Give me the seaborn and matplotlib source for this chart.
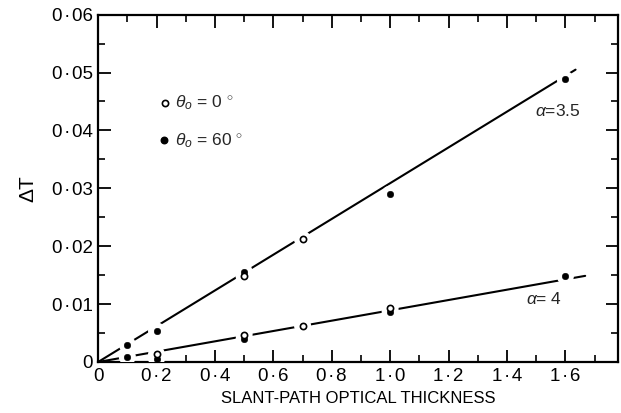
import matplotlib
matplotlib.use("Agg")
import matplotlib.pyplot as plt
import matplotlib.ticker as mticker
import seaborn as sns
import pandas as pd

# ---- data ----
x_theta0_a35 = [0.5, 0.7]
y_theta0_a35 = [0.0148, 0.0212]
x_theta0_a4 = [0.2, 0.5, 0.7, 1.0]
y_theta0_a4 = [0.0013, 0.0047, 0.0063, 0.0094]
x_theta60_a35 = [0.1, 0.2, 0.5, 1.0, 1.6]
y_theta60_a35 = [0.0030, 0.0054, 0.0156, 0.0290, 0.0488]
x_theta60_a4 = [0.1, 0.2, 0.5, 1.0, 1.6]
y_theta60_a4 = [0.0009, 0.0006, 0.0039, 0.0087, 0.0148]

fit_a35_x = [0.0, 1.635]
fit_a35_y = [0.0, 0.0505]
fit_a4_x = [0.0, 1.668]
fit_a4_y = [0.0, 0.01488]

x_ticks = [0, 0.2, 0.4, 0.6, 0.8, 1.0, 1.2, 1.4, 1.6]
y_ticks = [0, 0.01, 0.02, 0.03, 0.04, 0.05, 0.06]

sns.set_theme(style="ticks")
plt.rcParams["font.family"] = ["Liberation Sans", "DejaVu Sans"]
plt.rcParams["mathtext.fontset"] = "custom"
plt.rcParams["mathtext.rm"] = "Liberation Sans"
plt.rcParams["mathtext.it"] = "Liberation Sans:italic"

fig = plt.figure(figsize=(6.21, 4.13), dpi=100)
ax = fig.add_axes([0.158, 0.1235, 0.837, 0.841])

fits = pd.concat([
    pd.DataFrame({"x": fit_a35_x, "y": fit_a35_y, "alpha": "3.5"}),
    pd.DataFrame({"x": fit_a4_x, "y": fit_a4_y, "alpha": "4"}),
])
sns.lineplot(data=fits, x="x", y="y", units="alpha", estimator=None,
             color="black", lw=1.5, ax=ax, legend=False, zorder=2)

open_df = pd.DataFrame({"x": x_theta0_a35 + x_theta0_a4,
                        "y": y_theta0_a35 + y_theta0_a4})
filled_df = pd.DataFrame({"x": x_theta60_a35 + x_theta60_a4,
                          "y": y_theta60_a35 + y_theta60_a4})
all_df = pd.concat([open_df, filled_df])

# white halos to break the lines around each point
sns.scatterplot(data=all_df, x="x", y="y", s=150, color="white",
                edgecolor="none", ax=ax, zorder=3, legend=False)
sns.scatterplot(data=filled_df, x="x", y="y", s=22, color="black",
                edgecolor="black", ax=ax, zorder=4, legend=False)
sns.scatterplot(data=open_df, x="x", y="y", s=20, facecolor="white",
                edgecolor="black", linewidth=1.2, ax=ax, zorder=5, legend=False)

# legend-like annotations
ax.scatter([0.229], [0.0448], s=20, facecolor="white", edgecolor="black", linewidth=1.2, zorder=5)
ax.scatter([0.226], [0.0383], s=22, color="black", zorder=5)
ax.text(0.262, 0.0448, r"$\theta_o$ = 0 $^{\circ}$", fontsize=12.5, va="center", ha="left")
ax.text(0.262, 0.0383, r"$\theta_o$ = 60 $^{\circ}$", fontsize=12.5, va="center", ha="left")
ax.text(1.495, 0.0434, r"$\alpha$=3.5", fontsize=12.5, va="center", ha="left")
ax.text(1.465, 0.0109, r"$\alpha$= 4", fontsize=12.5, va="center", ha="left")

ax.set_xlim(0, 1.78)
ax.set_ylim(0, 0.06)
ax.set_xticks(x_ticks)
ax.set_yticks(y_ticks)
ax.xaxis.set_minor_locator(mticker.MultipleLocator(0.1))
ax.yaxis.set_minor_locator(mticker.MultipleLocator(0.005))

def fmt(v, pos, nd):
    if abs(v) < 1e-12:
        return "0"
    return f"{v:.{nd}f}".replace(".", "\u200a\u00b7\u200a")

ax.xaxis.set_major_formatter(mticker.FuncFormatter(lambda v, p: fmt(v, p, 1)))
ax.yaxis.set_major_formatter(mticker.FuncFormatter(lambda v, p: fmt(v, p, 2)))

ax.tick_params(which="both", direction="in", top=True, right=True,
               color="black", labelsize=13.5, labelcolor="black")
ax.tick_params(which="major", length=9, width=1.3, pad=4)
ax.tick_params(which="minor", length=5, width=1.2)
for s in ax.spines.values():
    s.set_linewidth(1.6)
    s.set_color("black")

ax.set_xlabel("SLANT-PATH OPTICAL THICKNESS", fontsize=12, labelpad=5, color="black")
ax.set_ylabel("\u0394T", fontsize=15, labelpad=10, color="black")

fig.savefig("out.png", dpi=100, facecolor="white")
